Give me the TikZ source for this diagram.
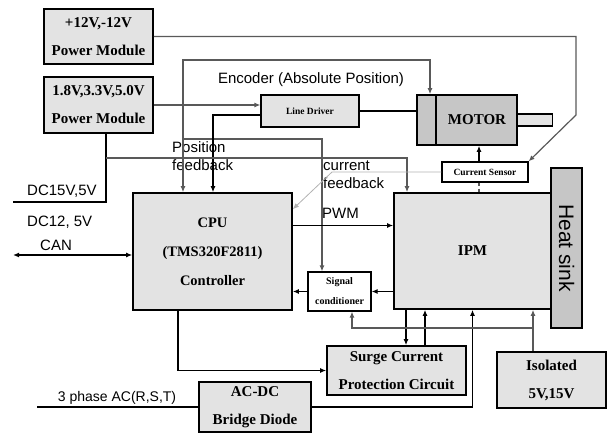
\documentclass[tikz,border=0pt]{standalone}
\usepackage{fontspec}
\setmainfont{Liberation Serif}
\newfontfamily\lblfont{Liberation Sans}
\usetikzlibrary{arrows.meta}

\begin{document}
\begin{tikzpicture}[
        x=1pt, y=-1pt,
        >={Latex[length=6pt,width=5pt]},
        box/.style={
            draw,
            line width=1.6pt,
            fill=gray!22,
            align=center,
            inner sep=0pt,
            font=\bfseries\fontsize{15}{28}\selectfont
        },
        smallbox/.style={
            draw,
            line width=1.2pt,
            fill=white,
            align=center,
            inner sep=0pt,
            font=\bfseries\fontsize{9.5}{19}\selectfont
        },
        lbl/.style={
            font=\lblfont\fontsize{15}{18}\selectfont,
            inner sep=0pt
        },
        sline/.style={line width=1.4pt},
        dline/.style={line width=1.2pt, black!65},
        gline/.style={line width=0.8pt, gray!60}
    ]
        \useasboundingbox (0,0) rectangle (609,433);

        % blocks
        \node[box, minimum width=109pt, minimum height=55pt] (pm1) at (98.5,36.5) {+12V,-12V\\Power Module};
        \node[box, minimum width=109pt, minimum height=56pt] (pm2) at (98.5,105) {1.8V,3.3V,5.0V\\Power Module};
        \node[smallbox, fill=gray!22, minimum width=98pt, minimum height=32pt] (ldrv) at (310,111) {Line Driver};
        \node[draw, line width=1.6pt, fill=gray!22, minimum width=37pt, minimum height=12pt] (shaft) at (534,120) {};
        \node[box, fill=gray!45, minimum width=100pt, minimum height=50pt] (motor) at (467,120) {\hspace*{20pt}MOTOR};
        \draw[line width=1.6pt] ([xshift=20pt]motor.north west) -- ([xshift=20pt]motor.south west);
        \node[smallbox, minimum width=86pt, minimum height=20pt] (csens) at (485,172) {Current Sensor};
        \node[box, minimum width=159pt, minimum height=117pt, font=\bfseries\fontsize{14.5}{29}\selectfont] (cpu) at (212.5,251.5) {CPU\\(TMS320F2811)\\Controller};
        \node[box, minimum width=157pt, minimum height=116pt] (ipm) at (472.5,251) {IPM};
        \node[draw, line width=1.6pt, fill=gray!45, rotate=-90, minimum width=160pt, minimum height=31pt,
              font=\lblfont\fontsize{21}{21}\selectfont] (sink) at (566.5,248) {Heat sink};
        \node[smallbox, minimum width=63pt, minimum height=39pt, font=\bfseries\fontsize{10}{20}\selectfont] (sigc) at (339.5,291.5) {Signal\\conditioner};
        \node[box, minimum width=139pt, minimum height=49pt] (surge) at (396.5,370.5) {Surge Current\\Protection Circuit};
        \node[box, minimum width=109pt, minimum height=56pt] (iso) at (551.5,380) {Isolated\\5V,15V};
        \node[box, minimum width=112pt, minimum height=50pt] (acdc) at (255,407) {AC-DC\\Bridge Diode};

        % labels
        \node[lbl] (lblenc) at (311,80) {Encoder (Absolute Position)};
        \node[lbl, align=left, anchor=west] (lblpos) at (172,156) {Position\\feedback};
        \node[lbl, align=left, anchor=west] (lblcur) at (323,175) {current\\feedback};
        \node[lbl, anchor=west] (lblpwm) at (322,213) {PWM};
        \node[lbl, anchor=west] (lbldc15) at (27,191) {DC15V,5V};
        \node[lbl, anchor=west] (lbldc12) at (27,222) {DC12, 5V};
        \node[lbl, anchor=west] (lblcan) at (40,245) {CAN};
        \node[lbl, font=\lblfont\fontsize{14}{16}\selectfont] (lblac) at (117,398) {3 phase AC(R,S,T)};

        % bend points
        \coordinate (pmbend) at (576,115);
        \coordinate (xmot) at (430,60);
        \coordinate (xenc) at (183,60);
        \coordinate (xcfb) at (322,139);
        \coordinate (xpos) at (213,115);
        \coordinate (xpwr) at (106,158);
        \coordinate (xipm) at (407,158);
        \coordinate (dcend) at (13,202);
        \coordinate (xcs) at (479,0);
        \coordinate (csbend) at (332,172);
        \coordinate (canend) at (13,255);
        \coordinate (xsrg) at (178,0);
        \coordinate (sdown) at (406,0);
        \coordinate (supp) at (425,0);
        \coordinate (acend) at (37,407);
        \coordinate (xiso) at (533,328);
        \coordinate (xsig) at (352,0);

        % connectors
        \draw[dline, ->] (pm1.east) -- (pm1.east -| pmbend) -- (pmbend) -- (csens.north east);
        \draw[dline, <->] (motor.north -| xmot) -- (xmot) -- (xenc) -- (xenc |- cpu.north);
        \draw[dline, ->] (xenc |- xcfb) -- (xcfb) -- (xcfb |- sigc.north);
        \draw[dline, ->] (pm2.east) -- (pm2.east -| ldrv.west);
        \draw[sline, ->] (ldrv.west |- xpos) -- (xpos) -- (xpos |- cpu.north);
        \draw[line width=2pt] (ldrv.east) -- (ldrv.east -| motor.west);
        \draw[sline] (pm2.south -| xpwr) -- (xpwr |- dcend) -- (dcend);
        \draw[dline, ->] (xpwr) -- (xipm) -- (xipm |- ipm.north);
        \draw[dline, dashed] (xcs |- csens.south) -- (xcs |- ipm.north);
        \draw[sline, ->] (xcs |- csens.north) -- (xcs |- motor.south);
        \draw[gline, ->] (csens.west) -- (csbend) -- ([yshift=-17pt]cpu.north east);
        \draw[sline, ->] ([yshift=26pt]cpu.east) -- ([yshift=26pt]cpu.east -| ipm.west);
        \draw[sline, ->] (sigc.west) -- (sigc.west -| cpu.east);
        \draw[sline, ->] (sigc.east -| ipm.west) -- (sigc.east);
        \draw[sline, <->] (canend) -- (canend -| cpu.west);
        \draw[sline, ->] (xsrg |- cpu.south) |- (surge.west);
        \draw[sline, ->] (sdown |- ipm.south) -- (sdown |- surge.north);
        \draw[sline, ->] (supp |- surge.north) -- (supp |- ipm.south);
        \draw[sline, ->] (acdc.east) -| (ipm.south);
        \draw[sline] (acend) -- (acdc.west);
        \draw[dline, ->] (xiso |- iso.north) -- (xiso |- ipm.south);
        \draw[dline, ->] (xiso) -| (xsig |- sigc.south);
\end{tikzpicture}
\end{document}
